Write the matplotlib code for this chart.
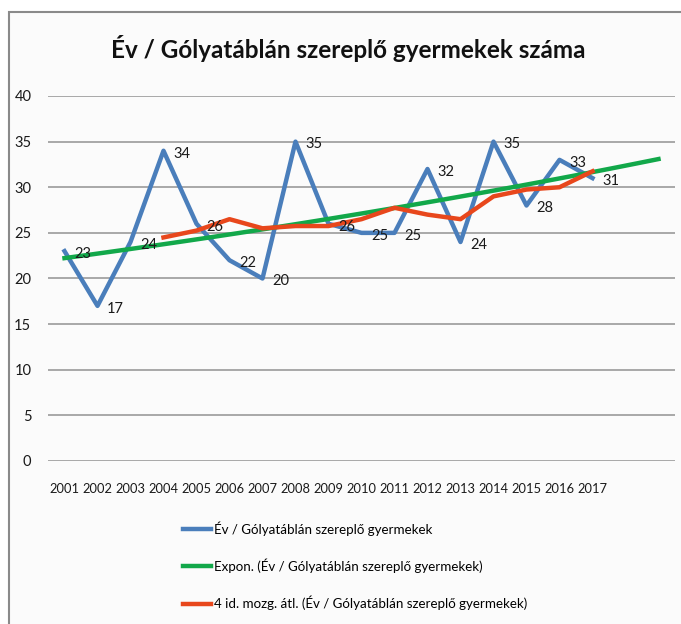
import numpy as np
import matplotlib
matplotlib.use("Agg")
import matplotlib.pyplot as plt
from matplotlib.patches import Rectangle

plt.rcParams['font.family'] = ['Lato', 'DejaVu Sans']

# Adatok
years = ['2001', '2002', '2003', '2004', '2005', '2006', '2007', '2008', '2009',
         '2010', '2011', '2012', '2013', '2014', '2015', '2016', '2017']
children = [23, 17, 24, 34, 26, 22, 20, 35, 26, 25, 25, 32, 24, 35, 28, 33, 31]
# 4 időszakos mozgóátlag (az első három évre nincs érték)
moving_avg = [np.nan, np.nan, np.nan, 24.5, 25.25, 26.5, 25.5, 25.75, 25.75,
              26.5, 27.75, 27, 26.5, 29, 29.75, 30, 31.75]
forecast_periods = 2

x = np.arange(len(years))

# exponenciális trendvonal (Excel-szerű illesztés ln y = a + b x)
b, a = np.polyfit(x, np.log(children), 1)
x_trend = np.linspace(0, len(years) - 1 + forecast_periods, 100)
y_trend = np.exp(a + b * x_trend)

fig = plt.figure(figsize=(6.81, 6.24), dpi=100)
fig.patch.set_facecolor('white')

# diagram keret
fig.patches.append(Rectangle((9 / 681, -0.05), 1.0, 1 - 12 / 624 + 0.05,
                             transform=fig.transFigure, facecolor='#fbfbfb',
                             edgecolor='#8a8a8a', linewidth=1.5, zorder=-10))

ax = fig.add_axes([48 / 681, (624 - 461) / 624, (675 - 48) / 681, 365 / 624])
ax.set_facecolor('none')

blue = '#4a7ebb'
green = '#12a84a'
red = '#e8471c'

ax.plot(x, children, color=blue, linewidth=3.2, label='Év / Gólyatáblán szereplő gyermekek', zorder=3)
ax.plot(x_trend, y_trend, color=green, linewidth=3.2,
        label='Expon. (Év / Gólyatáblán szereplő gyermekek)', zorder=4)
ax.plot(x, moving_avg, color=red, linewidth=3.2,
        label='4 id. mozg. átl. (Év / Gólyatáblán szereplő gyermekek)', zorder=5)

for xi, v in zip(x, children):
    ax.annotate(str(v), (xi, v), xytext=(7, -2), textcoords='offset points',
                ha='left', va='center', fontsize=10.5, color='#1a1a1a', zorder=6)

ax.set_xlim(-0.5, len(years) - 1 + 2.5)
ax.set_ylim(0, 40)
ax.set_yticks(range(0, 41, 5))
ax.set_xticks(x)
ax.set_xticklabels(years)
ax.tick_params(axis='y', length=0, labelsize=10.5, colors='#1a1a1a', pad=12)
ax.tick_params(axis='x', length=0, labelsize=9.3, colors='#1a1a1a', pad=16)
ax.grid(axis='y', color='#9a9a9a', linewidth=1.2)
ax.set_axisbelow(True)
for s in ax.spines.values():
    s.set_visible(False)

fig.text(0.511, 0.922, 'Év / Gólyatáblán szereplő gyermekek száma', ha='center', va='center',
         fontsize=17.5, fontweight='bold', color='#111111')

fig.legend(loc='upper left', bbox_to_anchor=(178 / 681, 1 - 516 / 624), frameon=False,
           fontsize=9.6, handlelength=2.1, handletextpad=0.2, labelspacing=1.7,
           borderaxespad=0)

fig.savefig('out.png', dpi=100)
